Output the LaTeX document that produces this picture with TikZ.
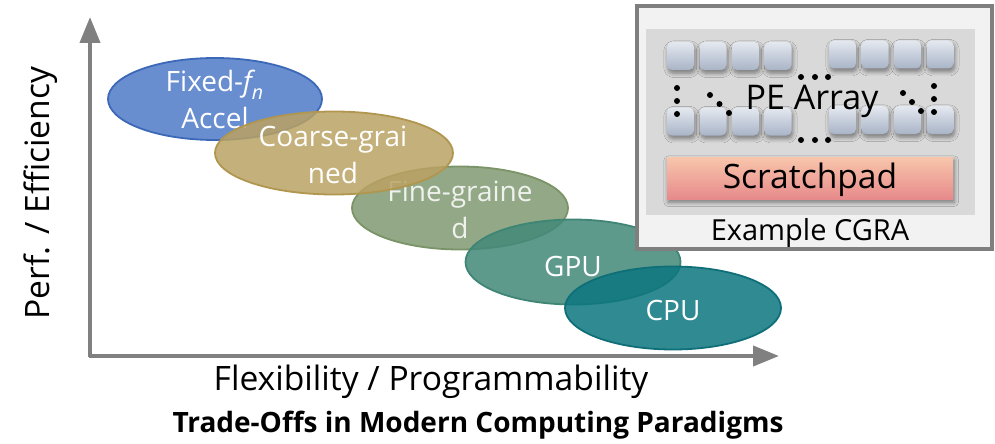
\documentclass[tikz,border=0pt]{standalone}
\usepackage{fontspec}
\setmainfont{Open Sans}
\usetikzlibrary{shapes.geometric,arrows.meta,shadows.blur}

% palette
\definecolor{axisgray}{HTML}{808080}
\definecolor{fixedfill}{HTML}{4F7AC8}
\definecolor{fixededge}{HTML}{3C68B8}
\definecolor{coarsefill}{HTML}{BAA263}
\definecolor{coarseedge}{HTML}{B0964F}
\definecolor{finefill}{HTML}{809971}
\definecolor{fineedge}{HTML}{7A9468}
\definecolor{gpufill}{HTML}{428878}
\definecolor{gpuedge}{HTML}{3F8575}
\definecolor{cpufill}{HTML}{0C767F}
\definecolor{cpuedge}{HTML}{0F6F78}
\definecolor{boxfill}{HTML}{F2F2F2}
\definecolor{boxedge}{HTML}{7F7F7F}
\definecolor{panelfill}{HTML}{D9D9D9}
\definecolor{petop}{HTML}{E4E9F0}
\definecolor{pebottom}{HTML}{A9B4C7}
\definecolor{padtop}{HTML}{F8C6AB}
\definecolor{padbottom}{HTML}{E78A8B}

\tikzset{
  axis/.style={draw=axisgray, line width=2pt, -{Triangle[length=13pt,width=10pt]}},
  blob/.style={ellipse, inner sep=0pt, line width=0.9pt, fill opacity=0.85},
  blobtext/.style={text=white, align=center, font=\fontsize{14}{18.5}\selectfont},
  axislabel/.style={font=\fontsize{16.8}{20}\selectfont, text=black},
  pe/.style={rectangle, rounded corners=2.5pt, minimum width=13.5pt, minimum height=14pt,
    inner sep=0pt, top color=petop, bottom color=pebottom,
    blur shadow={shadow xshift=0.6pt, shadow yshift=-1.6pt, shadow blur steps=6, shadow opacity=45}},
  dot/.style={fill=black},
}

\begin{document}
\begin{tikzpicture}[x=0.5pt,y=-0.5pt]
\useasboundingbox (0,0) rectangle (995,444);

% axes
\coordinate (origin) at (90,357);
\coordinate (corner) at (89,356);
\coordinate (ytip) at (90,17);
\coordinate (xtip) at (779,356);
\draw[axis] (origin) -- (ytip);
\draw[axis] (corner) -- (xtip);

\node[axislabel, rotate=90] (ylab) at (41,193) {Perf. / Efficiency};
\node[axislabel] (xlab) at (431,382) {Flexibility / Programmability};
\node[font=\fontsize{14}{17}\selectfont\bfseries] (title) at (478,425) {Trade-Offs in Modern Computing Paradigms};

% design-space ellipses
\node[blob, fill=fixedfill, draw=fixededge, minimum width=107pt, minimum height=41pt] (fixed) at (215,99) {};
\node[blobtext] (fixedlab) at (fixed) {Fixed-{\itshape f}\textsubscript{\raisebox{-0.35ex}{\itshape n}}\\Accel};

\node[blob, fill=finefill, draw=fineedge, minimum width=108pt, minimum height=41.5pt] (fine) at (460,208) {};
\node[blobtext, text opacity=0.85] (finelab) at (460,210) {Fine-graine\\d};

\node[blob, fill=coarsefill, draw=coarseedge, minimum width=119pt, minimum height=41.5pt] (coarse) at (334,153) {};
\node[blobtext] (coarselab) at (333,155) {Coarse-grai\\ned};

\node[blob, fill=gpufill, draw=gpuedge, minimum width=107.5pt, minimum height=42.5pt] (gpu) at (573,262) {};
\node[blobtext] (gpulab) at (573,266) {GPU};

\node[blob, fill=cpufill, draw=cpuedge, minimum width=108pt, minimum height=41.5pt] (cpu) at (673,308) {};
\node[blobtext] (cpulab) at (673,310) {CPU};

% example CGRA
\node[rectangle, draw=boxedge, line width=1.6pt, fill=boxfill, minimum width=177.5pt, minimum height=121.5pt, inner sep=0pt] (cgra) at (814.5,127.5) {};
\node[rectangle, fill=panelfill, minimum width=164.5pt, minimum height=93pt, inner sep=0pt] (panel) at (810.5,122) {};

\foreach \x [count=\i] in {680.5,713,745.5,778} {
  \node[pe] (pel\i) at (\x,56) {};
  \node[pe] (pebl\i) at (\x,121.5) {};
}
\foreach \x [count=\i] in {842.5,875,907.5,940} {
  \node[pe] (per\i) at (\x,54.5) {};
  \node[pe] (pebr\i) at (\x,120) {};
}

% ellipsis dots
\foreach \x in {801,815,828} {
  \fill[dot] (\x,77) circle (1.5pt);
  \fill[dot] (\x,140) circle (1.5pt);
}
\foreach \y in {88,101,114} \fill[dot] (677,\y) circle (1.5pt);
\foreach \y in {86,99,112} \fill[dot] (934,\y) circle (1.5pt);
\fill[dot] (710,95) circle (1.5pt) (719.5,104) circle (1.5pt) (729,113) circle (1.5pt);
\fill[dot] (903,93) circle (1.5pt) (912,102) circle (1.5pt) (921,111) circle (1.5pt);

\node[font=\fontsize{17}{20}\selectfont, anchor=base] (pelab) at (812,110) {PE Array};

\node[rectangle, minimum width=143pt, minimum height=21pt, inner sep=0pt, top color=padtop, bottom color=padbottom,
  blur shadow={shadow xshift=0.6pt, shadow yshift=-1.6pt, shadow blur steps=6, shadow opacity=45}] (pad) at (810,178) {};
\node[font=\fontsize{16.8}{20}\selectfont, anchor=base] (padlab) at (810,188) {Scratchpad};

\node[font=\fontsize{14.5}{17}\selectfont, anchor=base] (cgralab) at (810,240) {Example CGRA};
\end{tikzpicture}
\end{document}
